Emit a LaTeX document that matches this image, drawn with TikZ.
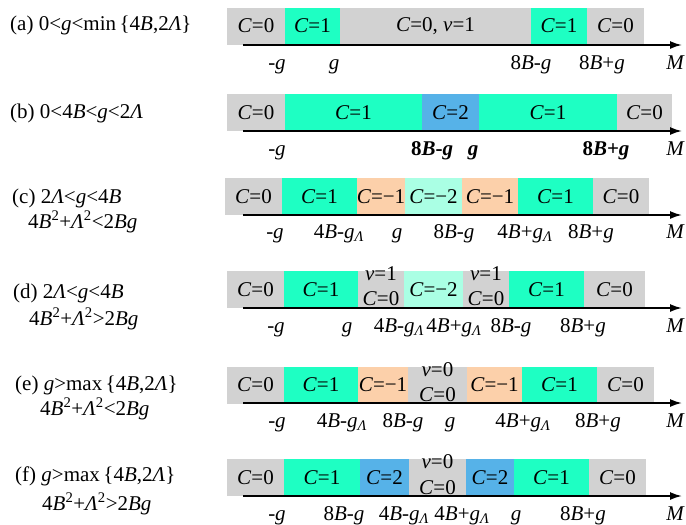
\documentclass[tikz,border=0pt]{standalone}
\usepackage{fontspec}
\setmainfont{Liberation Serif}
\usetikzlibrary{arrows.meta}
\definecolor{cellgray}{RGB}{210,210,210}
\definecolor{cellgreen}{RGB}{30,255,195}
\definecolor{cellblue}{RGB}{86,178,232}
\definecolor{cellorange}{RGB}{252,208,170}
\definecolor{cellteal}{RGB}{170,255,228}
\newcommand{\Ch}{\textit{C}}
\newcommand{\gL}{\textit{g}\textsubscript{\textit{Λ}}}

\begin{document}
\begin{tikzpicture}[x=1pt, y=-1pt,
  every node/.style={font=\fontsize{21}{24}\selectfont},
  cell/.style={inner sep=0pt, outer sep=0pt, minimum height=37pt},
  gry/.style={cell, fill=cellgray},
  grn/.style={cell, fill=cellgreen},
  blu/.style={cell, fill=cellblue},
  org/.style={cell, fill=cellorange},
  tea/.style={cell, fill=cellteal},
  axis/.style={line width=1.8pt, -{Latex[length=12pt, width=8pt]}},
  tick/.style={anchor=base, inner sep=0pt},
  cond/.style={anchor=base west, inner sep=0pt},
  axlab/.style={anchor=base east, inner sep=0pt},
  pair/.style={inner sep=0pt}
]
  \fill[white] (0,0) rectangle (686,525);
  \useasboundingbox (0,0) rectangle (686,525);

  % (a)
  \node[cond] (ta) at (10,30) {(a) 0<\textit{g}<min\,\{4\textit{B},2\textit{Λ}\}};
  \node[gry, minimum width=58] (a0) at (256,26) {\Ch=0};
  \node[grn, minimum width=55] (a1) at (312.5,26) {\Ch=1};
  \node[gry, minimum width=191] (a2) at (435.5,26) {\Ch=0,\ \textit{ν}=1};
  \node[grn, minimum width=56] (a3) at (559,26) {\Ch=1};
  \node[gry, minimum width=57] (a4) at (615.5,26) {\Ch=0};
  \coordinate (sa) at (243,45);
  \coordinate (ea) at (682,45);
  \draw[axis] (sa) -- (ea);
  \node[tick] (la0) at (277,69) {-\textit{g}};
  \node[tick] (la1) at (334,69) {\textit{g}};
  \node[tick] (la2) at (531,69) {8\textit{B}-\textit{g}};
  \node[tick] (la3) at (602,69) {8\textit{B}+\textit{g}};
  \node[axlab] (ma) at (685,69) {\textit{M}};

  % (b)
  \node[cond] (tb) at (10,118) {(b) 0<4\textit{B}<\textit{g}<2\textit{Λ}};
  \node[gry, minimum width=58] (b0) at (256,112.5) {\Ch=0};
  \node[grn, minimum width=137] (b1) at (353.5,112.5) {\Ch=1};
  \node[blu, minimum width=57] (b2) at (450.5,112.5) {\Ch=2};
  \node[grn, minimum width=138] (b3) at (548,112.5) {\Ch=1};
  \node[gry, minimum width=55] (b4) at (644.5,112.5) {\Ch=0};
  \coordinate (sb) at (243,131);
  \coordinate (eb) at (682,131);
  \draw[axis] (sb) -- (eb);
  \node[tick] (lb0) at (277,155) {-\textit{g}};
  \node[tick] (lb1) at (432,155) {\bfseries 8\textit{B}-\textit{g}};
  \node[tick] (lb2) at (473,155) {\bfseries\textit{g}};
  \node[tick] (lb3) at (606,155) {\bfseries 8\textit{B}+\textit{g}};
  \node[axlab] (mb) at (685,155) {\textit{M}};

  % (c)
  \node[cond] (tc) at (12,203) {(c) 2\textit{Λ}<\textit{g}<4\textit{B}};
  \node[cond] (tc2) at (28,228) {4\textit{B}\textsuperscript{2}+\textit{Λ}\textsuperscript{2}<2\textit{Bg}};
  \node[gry, minimum width=57] (c0) at (253.5,196.5) {\Ch=0};
  \node[grn, minimum width=75] (c1) at (319.5,196.5) {\Ch=1};
  \node[org, minimum width=48] (c2) at (381,196.5) {\Ch=−1};
  \node[tea, minimum width=57] (c3) at (433.5,196.5) {\Ch=−2};
  \node[org, minimum width=56] (c4) at (490,196.5) {\Ch=−1};
  \node[grn, minimum width=75] (c5) at (555.5,196.5) {\Ch=1};
  \node[gry, minimum width=56] (c6) at (621,196.5) {\Ch=0};
  \coordinate (sc) at (243,215);
  \coordinate (ec) at (682,215);
  \draw[axis] (sc) -- (ec);
  \node[tick] (lc0) at (275,238) {-\textit{g}};
  \node[tick] (lc1) at (339,238) {4\textit{B}-\gL};
  \node[tick] (lc2) at (397,238) {\textit{g}};
  \node[tick] (lc3) at (454,238) {8\textit{B}-\textit{g}};
  \node[tick] (lc4) at (525,238) {4\textit{B}+\gL};
  \node[tick] (lc5) at (591,238) {8\textit{B}+\textit{g}};
  \node[axlab] (mc) at (685,238) {\textit{M}};

  % (d)
  \node[cond] (td) at (13,298) {(d) 2\textit{Λ}<\textit{g}<4\textit{B}};
  \node[cond] (td2) at (29,325) {4\textit{B}\textsuperscript{2}+\textit{Λ}\textsuperscript{2}>2\textit{Bg}};
  \node[gry, minimum width=57] (d0) at (255.5,289.5) {\Ch=0};
  \node[grn, minimum width=74] (d1) at (321,289.5) {\Ch=1};
  \node[gry, minimum width=46] (d2) at (381,289.5) {};
  \node[tea, minimum width=59] (d3) at (433.5,289.5) {\Ch=−2};
  \node[gry, minimum width=46] (d4) at (486,289.5) {};
  \node[grn, minimum width=75] (d5) at (546.5,289.5) {\Ch=1};
  \node[gry, minimum width=61] (d6) at (614.5,289.5) {\Ch=0};
  \node[pair] (d2n) at (381,274) {\textit{ν}=1};
  \node[pair] (d2c) at (381,299) {\Ch=0};
  \node[pair] (d4n) at (486,274) {\textit{ν}=1};
  \node[pair] (d4c) at (486,299) {\Ch=0};
  \coordinate (sd) at (243,308);
  \coordinate (ed) at (682,308);
  \draw[axis] (sd) -- (ed);
  \node[tick] (ld0) at (276,332) {-\textit{g}};
  \node[tick] (ld1) at (347,332) {\textit{g}};
  \node[tick] (ld2) at (399,332) {4\textit{B}-\gL};
  \node[tick] (ld3) at (454,332) {4\textit{B}+\gL};
  \node[tick] (ld4) at (511,332) {8\textit{B}-\textit{g}};
  \node[tick] (ld5) at (583,332) {8\textit{B}+\textit{g}};
  \node[axlab] (md) at (685,332) {\textit{M}};

  % (e)
  \node[cond] (te) at (15,390) {(e) \textit{g}>max\,\{4\textit{B},2\textit{Λ}\}};
  \node[cond] (te2) at (40,415) {4\textit{B}\textsuperscript{2}+\textit{Λ}\textsuperscript{2}<2\textit{Bg}};
  \node[gry, minimum width=57] (e0) at (255.5,385) {\Ch=0};
  \node[grn, minimum width=74] (e1) at (321,385) {\Ch=1};
  \node[org, minimum width=50] (e2) at (383,385) {\Ch=−1};
  \node[gry, minimum width=59] (e3) at (437.5,385) {};
  \node[org, minimum width=55] (e4) at (494.5,385) {\Ch=−1};
  \node[grn, minimum width=75] (e5) at (559.5,385) {\Ch=1};
  \node[gry, minimum width=57] (e6) at (625.5,385) {\Ch=0};
  \node[pair] (e3n) at (437.5,370) {\textit{ν}=0};
  \node[pair] (e3c) at (437.5,395) {\Ch=0};
  \coordinate (se) at (243,403);
  \coordinate (ee) at (682,403);
  \draw[axis] (se) -- (ee);
  \node[tick] (le0) at (277,427) {-\textit{g}};
  \node[tick] (le1) at (342,427) {4\textit{B}-\gL};
  \node[tick] (le2) at (403,427) {8\textit{B}-\textit{g}};
  \node[tick] (le3) at (450,427) {\textit{g}};
  \node[tick] (le4) at (523,427) {4\textit{B}+\gL};
  \node[tick] (le5) at (598,427) {8\textit{B}+\textit{g}};
  \node[axlab] (me) at (685,427) {\textit{M}};

  % (f)
  \node[cond] (tf) at (15,481) {(f) \textit{g}>max\,\{4\textit{B},2\textit{Λ}\}};
  \node[cond] (tf2) at (42,510) {4\textit{B}\textsuperscript{2}+\textit{Λ}\textsuperscript{2}>2\textit{Bg}};
  \node[gry, minimum width=57] (f0) at (255.5,477.5) {\Ch=0};
  \node[grn, minimum width=76] (f1) at (322,477.5) {\Ch=1};
  \node[blu, minimum width=49] (f2) at (384.5,477.5) {\Ch=2};
  \node[gry, minimum width=57] (f3) at (437.5,477.5) {};
  \node[blu, minimum width=48] (f4) at (490,477.5) {\Ch=2};
  \node[grn, minimum width=75] (f5) at (551.5,477.5) {\Ch=1};
  \node[gry, minimum width=57] (f6) at (617.5,477.5) {\Ch=0};
  \node[pair] (f3n) at (437.5,462) {\textit{ν}=0};
  \node[pair] (f3c) at (437.5,488) {\Ch=0};
  \coordinate (sf) at (243,496);
  \coordinate (ef) at (682,496);
  \draw[axis] (sf) -- (ef);
  \node[tick] (lf0) at (277,520) {-\textit{g}};
  \node[tick] (lf1) at (344,520) {8\textit{B}-\textit{g}};
  \node[tick] (lf2) at (404,520) {4\textit{B}-\gL};
  \node[tick] (lf3) at (462,520) {4\textit{B}+\gL};
  \node[tick] (lf4) at (516,520) {\textit{g}};
  \node[tick] (lf5) at (583,520) {8\textit{B}+\textit{g}};
  \node[axlab] (mf) at (685,520) {\textit{M}};
\end{tikzpicture}
\end{document}
